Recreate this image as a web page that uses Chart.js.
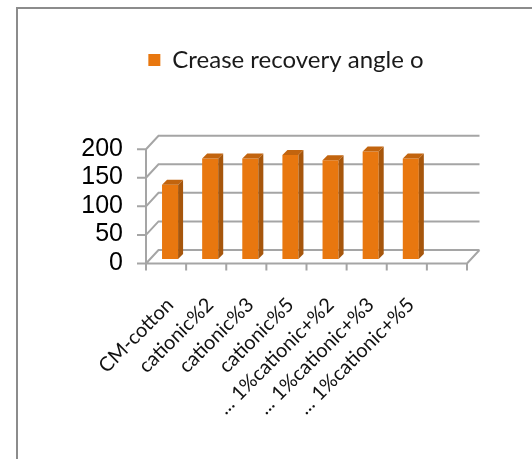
<!DOCTYPE html>
<html>
<head>
<meta charset="utf-8">
<script src="https://cdn.jsdelivr.net/npm/chart.js@4.4.1/dist/chart.umd.min.js"></script>
<style>
  html, body { margin: 0; padding: 0; background: #fff; }
  #wrap { position: relative; width: 532px; height: 459px; overflow: hidden; }
  #frame { position: absolute; left: 16px; top: 7px; width: 600px; height: 600px;
           border-left: 2px solid #8c8c8c; border-top: 2px solid #8c8c8c; }
  canvas { position: absolute; left: 0; top: 0; }
</style>
</head>
<body>
<div id="wrap">
  <div id="frame"></div>
  <canvas id="crChart" width="532" height="459"></canvas>
</div>
<script>
const categories = ['CM-cotton', 'cationic%2', 'cationic%3', 'cationic%5',
  '... 1%cationic+%2', '... 1%cationic+%3', '... 1%cationic+%5', ''];
const recoveryAngle = [130, 176, 176, 182, 173, 188, 176, null];
const yTicks = [0, 50, 100, 150, 200];

// fake 3d: front plane / back wall offsets from the bar plane
const FX = -4, FY = 4.5;
const BX = 8.5, BY = -9;
const DEPTH = 5;

const threeD = {
  id: 'threeD',
  beforeDatasetsDraw(chart) {
    const { ctx, scales: { x, y } } = chart;
    const step = x.getPixelForValue(1) - x.getPixelForValue(0);
    const x0 = x.getPixelForValue(0) - step / 2;
    const xN = x0 + step * categories.length;
    const p0 = y.getPixelForValue(0);
    ctx.save();
    ctx.strokeStyle = '#a5a5a5';
    ctx.lineWidth = 2;
    ctx.beginPath();
    yTicks.forEach(v => {
      const py = y.getPixelForValue(v);
      ctx.moveTo(x0 + FX, py + FY);
      ctx.lineTo(x0 + BX, py + BY);
      ctx.lineTo(xN + BX, py + BY);
      // tick mark on front axis
      ctx.moveTo(x0 + FX - 9, py + FY);
      ctx.lineTo(x0 + FX, py + FY);
    });
    // floor
    ctx.moveTo(x0 + FX, p0 + FY);
    ctx.lineTo(xN + FX, p0 + FY);
    ctx.lineTo(xN + BX, p0 + BY);
    // front vertical axis
    ctx.moveTo(x0 + FX, y.getPixelForValue(yTicks[yTicks.length - 1]) + FY);
    ctx.lineTo(x0 + FX, p0 + FY + 7);
    for (let k = 0; k <= categories.length; k++) {
      ctx.moveTo(x0 + k * step + FX, p0 + FY);
      ctx.lineTo(x0 + k * step + FX, p0 + FY + 7);
    }
    ctx.stroke();
    ctx.restore();
  },
  afterDatasetsDraw(chart) {
    const { ctx } = chart;
    const meta = chart.getDatasetMeta(0);
    ctx.save();
    meta.data.forEach((bar, i) => {
      if (recoveryAngle[i] == null) return;
      const { x, y, base, width } = bar.getProps(['x', 'y', 'base', 'width'], true);
      const l = x - width / 2, r = x + width / 2;
      // side
      ctx.fillStyle = '#a6560c';
      ctx.beginPath();
      ctx.moveTo(r, y);
      ctx.lineTo(r + DEPTH, y - DEPTH);
      ctx.lineTo(r + DEPTH, base - DEPTH);
      ctx.lineTo(r, base);
      ctx.closePath();
      ctx.fill();
      // top
      ctx.fillStyle = '#c2640e';
      ctx.beginPath();
      ctx.moveTo(l, y);
      ctx.lineTo(l + DEPTH, y - DEPTH);
      ctx.lineTo(r + DEPTH, y - DEPTH);
      ctx.lineTo(r, y);
      ctx.closePath();
      ctx.fill();
    });
    ctx.restore();
  }
};

const ctx = document.getElementById('crChart').getContext('2d');

const crChart = new Chart(ctx, {
  type: 'bar',
  data: {
    labels: categories,
    datasets: [{
      label: 'Crease recovery angle o',
      data: recoveryAngle,
      backgroundColor: '#e8770f',
      borderWidth: 0,
      categoryPercentage: 1,
      barPercentage: 0.4
    }]
  },
  options: {
    responsive: false,
    animation: false,
    layout: { padding: { left: 40, right: 0, top: 38, bottom: 0 } },
    scales: {
      x: {
        grid: { display: false, drawTicks: false },
        border: { display: false },
        ticks: {
          autoSkip: false,
          minRotation: 45,
          maxRotation: 45,
          padding: 34,
          color: '#111',
          font: { family: 'Lato', size: 20 }
        },
        afterFit: s => { s.height = 200; }
      },
      y: {
        min: 0,
        max: 200,
        grid: { display: false, drawTicks: false },
        border: { display: false },
        ticks: {
          stepSize: 50,
          autoSkip: false,
          padding: 27,
          labelOffset: 4,
          color: '#000',
          font: { family: 'Liberation Sans', size: 25 }
        },
        afterFit: s => { s.width = 110; }
      },
      yRight: {
        position: 'right',
        display: true,
        grid: { display: false, drawTicks: false },
        border: { display: false },
        ticks: { display: false },
        afterFit: s => { s.width = 61; }
      }
    },
    plugins: {
      legend: {
        display: true,
        position: 'top',
        labels: {
          boxWidth: 12,
          boxHeight: 12,
          padding: 10,
          color: '#1a1a1a',
          font: { family: 'Lato', size: 24 }
        }
      },
      // spacer between legend and plot
      subtitle: {
        display: true,
        text: '',
        weight: 500,
        font: { size: 1 },
        padding: { top: 0, bottom: 61.5 }
      },
      tooltip: { enabled: false }
    }
  },
  plugins: [threeD]
});
</script>
</body>
</html>
